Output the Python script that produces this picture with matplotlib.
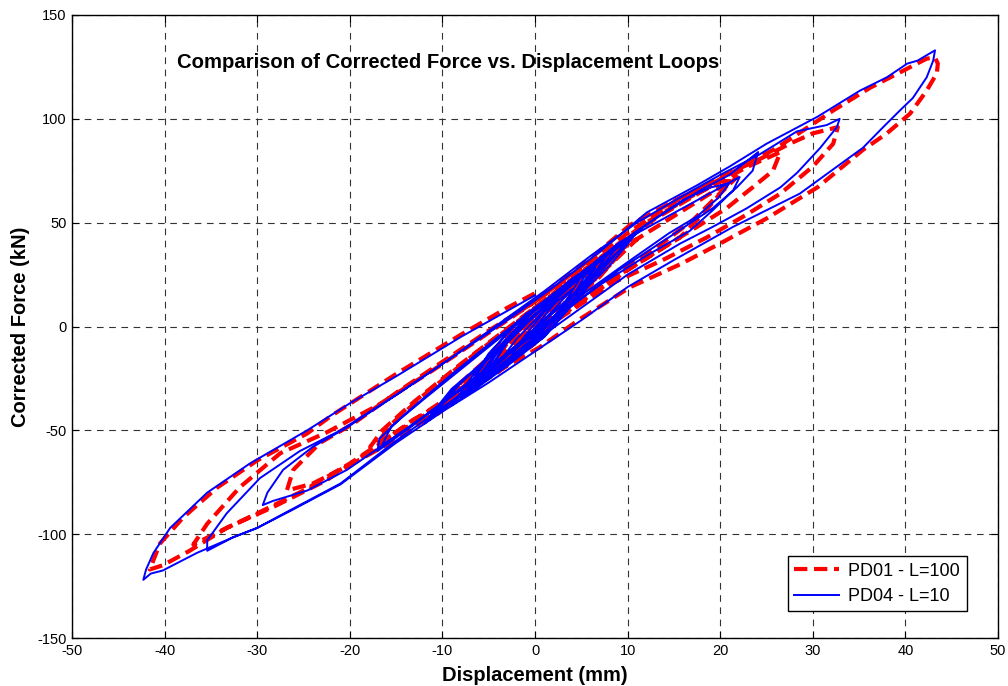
import matplotlib
matplotlib.use('Agg')
import matplotlib.pyplot as plt

# ---------------- data ----------------
# PD01 - L=100 : displacement (mm) / corrected force (kN), consecutive cycles
pd01_disp = [
    2.5, 1, -1, -2.5, -1, 1,
    3.5, 1.5, -1.5, -3.5, -1.5, 1.5,
    5, 3, -1, -5, -2, 2,
    6, 4, 0, -3, -6, -3, 0, 3,
    7, 4.5, 0, -4, -7, -4, 0, 4,
    8, 5, 0, -4, -8, -4, 0, 4,
    9.5, 7, 3, -1, -5, -10.5, -8, -4, 0, 4, 8,
    9, 6.5, 2, -2, -6, -10, -7, -3, 1, 5, 8.5,
    11, 7, 2, -3, -12, -8, -3, 2, 7,
    21.8, 20, 18.1, 15.7, 12.1, 8, 3, -2, -8, -13, -17.8, -16.5, -13, -8, -3, 2, 7, 12, 17, 20,
    21.2, 19.5, 17, 14, 10, 5, 0, -5, -10, -14, -17, -15.5, -12, -7, -2, 3, 8, 13, 18, 23,
    26.5, 25.7, 23.5, 20.7, 17.5, 13.8, 10.3, 5, 0, -5, -10, -14, -19.7, -24, -26.8,
    -26.1, -23.2, -19.7, -15, -10, -5, 0, 5, 10, 15, 20, 24, 27.5, 30,
    32.7, 32.2, 30, 26.5, 22.9, 18.6, 13.8, 8.4, 3, -2, -8, -14, -20, -25, -30, -33.3, -36.9,
    -35.4, -31.9, -27.5, -22.5, -17, -11, -5, 0, 5, 10.3, 15.7, 19.6, 26.1, 32.2, 36.2, 39.7, 42.3, 43.2,
    43.5, 43.4, 42.3, 40.5, 38, 35.4, 30.5, 25, 20, 15.7, 10.3, 5, 0.5, -5, -10, -13.2, -17.5, -22.5,
    -28.3, -33.3, -37.3, -40.2, -41.6,
    -40.5, -38, -34.3, -30, -24.6, -22, -14.9, -7.8, -3, 0,
]
pd01_force = [
    12, 4, -5, -12, -3, 6,
    16, 6, -8, -16, -5, 9,
    22, 10, -9, -22, -4, 13,
    26, 12, -7, -17, -27, -8, 8, 19,
    30, 14, -8, -20, -30, -10, 9, 22,
    33, 16, -8, -22, -33, -11, 8, 22,
    37, 24, 8, -8, -22, -42, -27, -11, 5, 20, 34,
    36, 23, 5, -11, -25, -40, -24, -8, 9, 24, 35,
    42, 25, 5, -14, -46, -28, -7, 12, 31,
    72, 64, 54, 43, 33, 22, 6, -11, -31, -46, -58, -50, -36, -18, -1, 16, 33, 50, 63, 70,
    70, 62, 51, 41, 29, 14, -3, -20, -37, -49, -56, -47, -33, -15, 2, 19, 36, 52, 65, 77,
    84, 75, 67, 57, 48, 38, 28, 12, -4, -20, -38, -52, -66, -75.6, -79,
    -69, -56, -47, -32, -17, -2, 12, 28, 45, 60, 72, 80, 88, 93,
    96, 88, 77, 64, 54, 43, 32, 21, 5, -11, -30, -48, -66, -79, -90, -97, -105,
    -95, -77.5, -61, -51, -38, -21, -3, 12, 29, 49, 62, 70, 86, 104, 115, 123, 129, 129.5,
    126.6, 122, 113.6, 102.5, 93, 85, 67, 52, 40, 30, 19, 4, -10, -24, -37, -45, -59, -74,
    -87, -97, -108, -115, -117,
    -104.5, -92, -77.5, -64.5, -51.5, -43, -22.6, -3.4, 9, 16,
]

# PD04 - L=10
pd04_disp = [
    2.5, 1, -1, -2.5, -1, 1,
    4, 2, -1.5, -4, -2, 1.5,
    5, 3, 0, -3, -5, -3, 0, 3,
    6.5, 4, 0, -3.5, -6.5, -3.5, 0, 3.5,
    6, 4, 0, -4, -6, -3, 1, 4,
    7.5, 5, 1, -3, -7.5, -4, 0, 4,
    7, 4, -1, -5, -8, -5, -1, 3,
    8, 5.5, 1, -3, -8, -5, -1, 4,
    9, 6, 2, -2, -9, -6, -2, 3, 7,
    10.6, 8, 4, 0, -5, -11.7, -9, -5, -1, 3, 8,
    10, 7, 2, -3, -7, -11, -8, -4, 0, 4, 9,
    11.5, 8, 3, -2, -7, -12, -9, -4, 0, 5, 9,
    22.1, 21.4, 19.2, 16.7, 12, 7, 2, -3, -9, -13, -17, -16.8, -14, -9, -4, 1, 6, 11, 16, 19,
    21, 19.8, 17.5, 14.5, 10, 5, 0, -5, -10, -14, -16.5, -15.5, -12, -7, -2, 3, 8, 13, 18, 21,
    24.1, 23.5, 21.8, 19.2, 16.7, 13.8, 9, 4, -1, -6, -11, -16.7, -20.3, -24.6, -28.3, -29.4,
    -28.9, -27.2, -24, -20.3, -15, -9, -4, 1, 6, 11, 16, 20, 24.3, 28.3, 31.5,
    32.9, 32.6, 30.8, 28.3, 26.5, 22.9, 19.2, 15.7, 10, 5, 0, -5, -10, -15, -21, -26.5, -30, -32.6, -35.4,
    -35.4, -33.3, -29.7, -25.4, -21, -15, -9, -3, 2, 7, 12.1, 17.5, 21, 25, 30.5, 35.1, 38, 40.2, 41.3,
    43.2, 43, 42.3, 40.8, 39.4, 37.6, 35.4, 34, 28.6, 21.4, 15, 10, 5, 0, -5, -10, -15, -21, -26.5,
    -30, -32.6, -36.5, -40.2, -41.5, -42.3,
    -42, -41.2, -39.4, -35.4, -30.8, -24.6, -20, -15, -8, 0,
]
pd04_force = [
    13, 5, -6, -13, -4, 7,
    18, 8, -8, -18, -6, 10,
    24, 10, -7, -17, -23, -6, 9, 18,
    28, 12, -8, -19, -29, -9, 9, 21,
    29, 14, -6, -20, -27, -8, 10, 22,
    33, 16, -5, -18, -33, -11, 8, 23,
    32, 14, -9, -24, -34, -15, 4, 19,
    36, 18, -5, -19, -35, -13, 6, 21,
    39, 22, 0, -15, -38, -19, 2, 18, 33,
    43, 29, 12, -5, -23, -45, -30, -15, 2, 17, 35,
    41, 26, 7, -13, -29, -43, -27, -11, 6, 22, 40,
    47, 32, 11, -10, -30, -47, -31, -11, 5, 25, 40,
    72, 65.5, 56, 46, 34, 20, 4, -13, -33, -47, -60, -54, -42, -23, -5, 12, 29, 46, 61, 67,
    69, 62, 53, 45, 31, 15, -2, -20, -37, -50, -57, -48, -35, -17, 1, 18, 36, 52, 66, 73,
    84, 75, 67, 57, 49.6, 41, 27, 10, -7, -24, -40, -58, -69, -79, -84, -86,
    -80, -69, -58, -48.6, -33, -15, 1, 17, 34, 50, 63, 73, 83, 94, 97,
    100, 96, 86, 74, 67, 57, 48, 40, 25, 9, -7, -23, -39, -55, -75.6, -88.6, -97, -101.5, -108,
    -103, -90, -73, -60, -50, -33, -15, 3, 19, 36, 55, 68, 77, 88, 101, 113.6, 120, 126.6, 128,
    133, 128, 120, 110, 104, 96, 86, 81.5, 64, 48, 32, 19, 3, -12, -27, -41, -56, -76, -89,
    -97, -101.5, -109, -117.5, -119, -122,
    -117, -109, -97, -80, -66, -50, -37, -24, -5, 15,
]

x_ticks = [-50, -40, -30, -20, -10, 0, 10, 20, 30, 40, 50]
y_ticks = [-150, -100, -50, 0, 50, 100, 150]
series_labels = ['PD01 - L=100', 'PD04 - L=10']
title_text = 'Comparison of Corrected Force vs. Displacement Loops'

# ---------------- figure ----------------
plt.rcParams['font.family'] = ['Liberation Sans', 'DejaVu Sans']
plt.rcParams['axes.unicode_minus'] = False
fig = plt.figure(figsize=(10.08, 6.86), dpi=100)
ax = fig.add_axes([72 / 1008, 48 / 686, 926 / 1008, 623 / 686])

ax.plot(pd01_disp, pd01_force, color='#ff0000', ls='--', lw=3.0,
        dashes=(3.2, 1.6), label=series_labels[0], zorder=3)
ax.plot(pd04_disp, pd04_force, color='#0000ff', lw=1.4,
        label=series_labels[1], zorder=4)

ax.set_xlim(-50, 50)
ax.set_ylim(-150, 150)
ax.set_xticks(x_ticks)
ax.set_yticks(y_ticks)
ax.tick_params(direction='in', top=True, right=True, length=5, width=0.8,
               labelsize=10.5, pad=4)
ax.set_axisbelow(True)
ax.grid(True, color='#333333', ls=(0, (6, 5)), lw=0.8)
for s in ax.spines.values():
    s.set_linewidth(1.0)
    s.set_color('black')

ax.set_xlabel('Displacement (mm)', fontsize=14.5, fontweight='bold')
ax.set_ylabel('Corrected Force (kN)', fontsize=14.5, fontweight='bold')
ax.xaxis.set_label_coords(0.5, -0.045)
ax.yaxis.set_label_coords(-0.045, 0.5)

ax.text(-38.7, 127, title_text, fontsize=14.6, fontweight='bold',
        ha='left', va='center')

leg = ax.legend(loc='lower right', bbox_to_anchor=(0.966, 0.043),
                borderaxespad=0, fontsize=13, handlelength=2.5,
                fancybox=False, framealpha=1, edgecolor='black',
                borderpad=0.35, labelspacing=0.45, handletextpad=0.5)
leg.get_frame().set_linewidth(1.0)

fig.savefig('out.png', dpi=100)
